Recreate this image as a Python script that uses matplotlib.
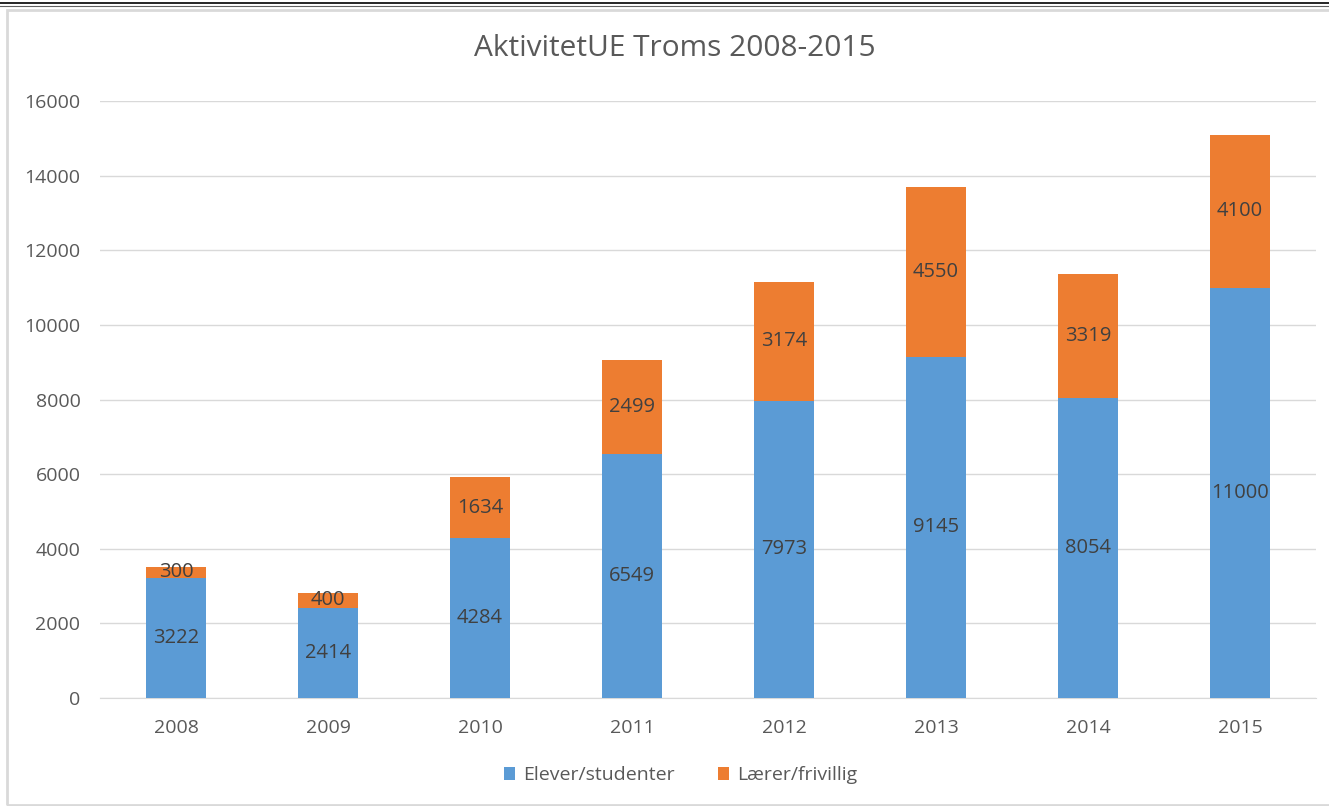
import numpy as np
import matplotlib.pyplot as plt
from matplotlib.lines import Line2D
from matplotlib.patches import Rectangle

plt.rcParams['font.family'] = ['Open Sans', 'DejaVu Sans']

years = ['2008', '2009', '2010', '2011', '2012', '2013', '2014', '2015']
elever = [3222, 2414, 4284, 6549, 7973, 9145, 8054, 11000]
laerer = [300, 400, 1634, 2499, 3174, 4550, 3319, 4100]

blue = '#5B9BD5'
orange = '#ED7D31'

fig = plt.figure(figsize=(13.29, 8.06), dpi=100)
ax = fig.add_axes([0.0752, 0.134, 0.915, 0.7406])

x = np.arange(len(years))
w = 0.4
b1 = ax.bar(x, elever, w, color=blue, label='Elever/studenter', zorder=3)
b2 = ax.bar(x, laerer, w, bottom=elever, color=orange, label='Lærer/frivillig', zorder=3)

for rect, v in zip(b1, elever):
    ax.text(rect.get_x() + rect.get_width() / 2, rect.get_y() + rect.get_height() / 2, str(v),
            ha='center', va='center', fontsize=14.5, color='#404040', zorder=4)
for rect, v in zip(b2, laerer):
    ax.text(rect.get_x() + rect.get_width() / 2, rect.get_y() + rect.get_height() / 2, str(v),
            ha='center', va='center', fontsize=14.5, color='#404040', zorder=4)

ax.set_xlim(-0.5, len(years) - 0.5)
ax.set_ylim(0, 16000)
ax.set_yticks(np.arange(0, 16001, 2000))
ax.set_xticks(x)
ax.set_xticklabels(years)
ax.tick_params(axis='both', length=0, labelsize=14, labelcolor='#595959')
ax.tick_params(axis='y', pad=14)
ax.tick_params(axis='x', pad=15)
ax.grid(axis='y', color='#d9d9d9', linewidth=1, zorder=0)
for s in ['top', 'right', 'left']:
    ax.spines[s].set_visible(False)
ax.spines['bottom'].set_color('#d9d9d9')

fig.text(675 / 1329, 1 - 49 / 806, 'AktivitetUE Troms 2008-2015', fontsize=21.5,
         color='#595959', ha='center', va='center')

fig.legend(loc='center', bbox_to_anchor=(0.512, 0.038), ncol=2, frameon=False,
           fontsize=14, labelcolor='#595959', handlelength=0.6, handleheight=0.6,
           handletextpad=0.4, columnspacing=2.2)

# outer chart frame and top rule
fig.patches.append(Rectangle((7 / 1329, 0.001), 1.0, 1 - 11 / 806, transform=fig.transFigure,
                             fill=False, edgecolor='#d9d9d9', linewidth=2))
fig.lines.append(Line2D([0, 1], [1 - 2.5 / 806, 1 - 2.5 / 806], transform=fig.transFigure,
                        color='black', linewidth=1.2))
fig.lines.append(Line2D([0, 1], [1 - 5.5 / 806, 1 - 5.5 / 806], transform=fig.transFigure,
                        color='#606060', linewidth=0.8))

fig.savefig('out.png', dpi=100)
